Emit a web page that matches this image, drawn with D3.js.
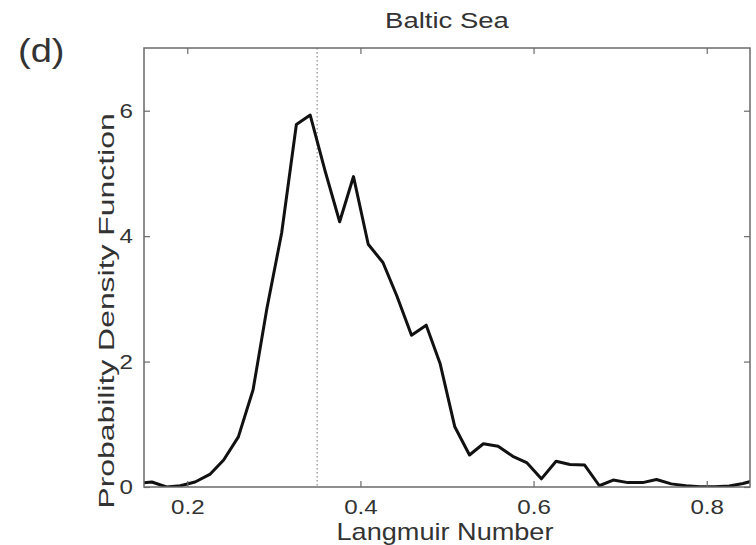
<!DOCTYPE html>
<html>
<head>
<meta charset="utf-8">
<script src="https://cdn.jsdelivr.net/npm/d3@7/dist/d3.min.js"></script>
<style>
  html, body { margin: 0; padding: 0; background: #fff; }
  svg { display: block; }
  text { font-family: "Liberation Sans", Arial, Helvetica, sans-serif; fill: #333; }
</style>
</head>
<body>
<svg id="chart" width="756" height="545"></svg>
<script>
// Langmuir number bin centres and the PDF estimated at each of them
const langmuir = [0.142, 0.159, 0.176, 0.192, 0.209, 0.226, 0.242, 0.259, 0.276, 0.292,
                  0.309, 0.326, 0.342, 0.359, 0.376, 0.392, 0.409, 0.426, 0.442, 0.459,
                  0.476, 0.492, 0.509, 0.526, 0.542, 0.559, 0.576, 0.592, 0.609, 0.626,
                  0.642, 0.659, 0.676, 0.692, 0.709, 0.726, 0.742, 0.759, 0.776, 0.792,
                  0.809, 0.826, 0.842, 0.859];
const pdf = [0.06, 0.08, 0.00, 0.02, 0.08, 0.20, 0.43, 0.80, 1.55, 2.85,
             4.05, 5.78, 5.93, 5.05, 4.23, 4.95, 3.87, 3.58, 3.05, 2.42,
             2.58, 1.97, 0.96, 0.51, 0.69, 0.65, 0.49, 0.39, 0.13, 0.41,
             0.36, 0.35, 0.02, 0.11, 0.07, 0.07, 0.12, 0.05, 0.02, 0.005,
             0.005, 0.015, 0.055, 0.12];
const xTicks = [0.2, 0.4, 0.6, 0.8];
const yTicks = [0, 2, 4, 6];
const xDomain = [0.15, 0.85];
const yDomain = [0, 7];
const meanLangmuir = 0.35;

const panelLabel = "(d)";
const title = "Baltic Sea";
const xLabel = "Langmuir Number";
const yLabel = "Probability Density Function";

const svg = d3.select("#chart");
const box = { left: 144, right: 750, top: 48, bottom: 487 };

const x = d3.scaleLinear().domain(xDomain).range([box.left, box.right]);
const y = d3.scaleLinear().domain(yDomain).range([box.bottom, box.top]);

const axisColor = "#6a6a6a";
const tickLen = 6;
const fontSize = 21;
const stretch = 1.15;

// clip the curve to the axes box
svg.append("defs").append("clipPath").attr("id", "plotClip")
  .append("rect")
  .attr("x", box.left).attr("y", box.top)
  .attr("width", box.right - box.left).attr("height", box.bottom - box.top);

// dotted marker at the mean Langmuir number
svg.append("line")
  .attr("x1", x(meanLangmuir)).attr("x2", x(meanLangmuir))
  .attr("y1", y(yDomain[1])).attr("y2", y(0))
  .attr("stroke", "#888").attr("stroke-width", 1.2)
  .attr("stroke-dasharray", "1.5,2.5");

// PDF curve
const line = d3.line().x((d, i) => x(langmuir[i])).y(d => y(d));
svg.append("path")
  .datum(pdf)
  .attr("clip-path", "url(#plotClip)")
  .attr("d", line)
  .attr("fill", "none")
  .attr("stroke", "#111")
  .attr("stroke-width", 3)
  .attr("stroke-linejoin", "round");

// inward ticks on all four sides
const axB = d3.axisBottom(x).tickValues(xTicks).tickSize(-tickLen).tickFormat(d3.format(".1f")).tickPadding(12);
const axT = d3.axisTop(x).tickValues(xTicks).tickSize(-tickLen).tickFormat("");
const axL = d3.axisLeft(y).tickValues(yTicks).tickSize(-tickLen).tickFormat(d3.format("d")).tickPadding(11);
const axR = d3.axisRight(y).tickValues(yTicks).tickSize(-tickLen).tickFormat("");

function style(g) {
  g.select(".domain").remove();
  g.selectAll(".tick line").attr("stroke", axisColor).attr("stroke-width", 1.2);
  g.selectAll(".tick text")
    .attr("font-size", fontSize)
    .attr("fill", "#333")
    .style("font-family", "'Liberation Sans', Arial, sans-serif");
}
const gB = svg.append("g").attr("transform", `translate(0,${box.bottom})`).call(axB).call(style);
svg.append("g").attr("transform", `translate(0,${box.top})`).call(axT).call(style);
const gL = svg.append("g").attr("transform", `translate(${box.left},0)`).call(axL).call(style);
svg.append("g").attr("transform", `translate(${box.right},0)`).call(axR).call(style);

// widen tick labels horizontally around their anchors
gB.selectAll(".tick text").attr("transform", `scale(${stretch},1)`).attr("dy", "0.71em");
gL.selectAll(".tick text").each(function() {
  const t = d3.select(this);
  const xx = +t.attr("x");
  t.attr("x", xx / stretch).attr("transform", `scale(${stretch},1)`);
});

// axes box
svg.append("rect")
  .attr("x", box.left).attr("y", box.top)
  .attr("width", box.right - box.left).attr("height", box.bottom - box.top)
  .attr("fill", "none").attr("stroke", axisColor).attr("stroke-width", 1.5);

// titles and labels
svg.append("text")
  .attr("transform", `translate(${(box.left + box.right) / 2},28) scale(1.25,1)`)
  .attr("text-anchor", "middle").attr("font-size", 22)
  .text(title);

svg.append("text")
  .attr("transform", `translate(445,540) scale(1.13,1)`)
  .attr("text-anchor", "middle").attr("font-size", 24)
  .text(xLabel);

svg.append("text")
  .attr("transform", `translate(114,311) rotate(-90) scale(1.45,1)`)
  .attr("text-anchor", "middle").attr("font-size", 22)
  .text(yLabel);

svg.append("text")
  .attr("transform", "translate(18,62) scale(1.12,1)")
  .attr("font-size", 34).attr("fill", "#111")
  .text(panelLabel);
</script>
</body>
</html>
